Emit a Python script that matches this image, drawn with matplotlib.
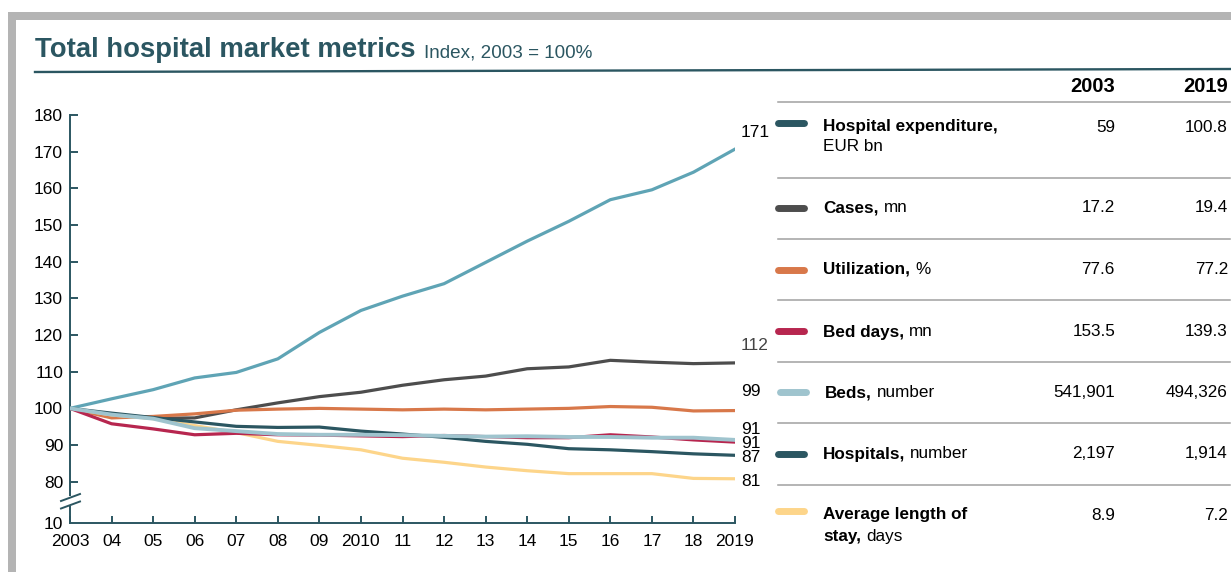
import matplotlib
matplotlib.use("Agg")
import matplotlib.pyplot as plt
from matplotlib.lines import Line2D
from matplotlib.patches import Rectangle

plt.rcParams['font.family'] = ['Liberation Sans', 'DejaVu Sans']

# ---------------- data ----------------
years = list(range(2003, 2020))
year_labels = ["2003", "04", "05", "06", "07", "08", "09", "2010", "11", "12",
               "13", "14", "15", "16", "17", "18", "2019"]

expenditure = [100, 102.6, 105.1, 108.3, 109.8, 113.5, 120.7, 126.7, 130.6, 134.0,
               139.8, 145.6, 151.0, 156.9, 159.6, 164.4, 170.7]
cases = [100, 98.2, 97.3, 97.4, 99.6, 101.5, 103.2, 104.4, 106.3, 107.8,
         108.8, 110.8, 111.3, 113.1, 112.6, 112.2, 112.4]
utilization = [100, 97.4, 97.8, 98.5, 99.5, 99.8, 100.0, 99.8, 99.6, 99.8,
               99.6, 99.8, 100.0, 100.5, 100.3, 99.3, 99.4]
bed_days = [100, 95.8, 94.4, 92.8, 93.2, 92.8, 92.7, 92.5, 92.3, 92.6,
            92.3, 92.0, 92.0, 92.8, 92.2, 91.4, 90.8]
beds = [100, 98.3, 97.2, 94.6, 93.8, 93.0, 92.8, 92.8, 92.7, 92.5,
        92.3, 92.4, 92.2, 92.2, 92.0, 92.0, 91.4]
hospitals = [100, 98.7, 97.5, 96.3, 95.1, 94.8, 94.9, 93.8, 93.0, 92.1,
             91.0, 90.2, 89.0, 88.7, 88.2, 87.6, 87.2]
alos = [100, 98.2, 97.2, 95.3, 93.4, 91.0, 89.9, 88.7, 86.4, 85.3,
        84.0, 83.0, 82.2, 82.2, 82.2, 80.9, 80.8]

end_labels = ["171", "112", "99", "91", "91", "87", "81"]
ytick_values = [80, 90, 100, 110, 120, 130, 140, 150, 160, 170, 180]

legend_bold = ["Hospital expenditure,", "Cases,", "Utilization,", "Bed days,",
               "Beds,", "Hospitals,", "Average length of\nstay,"]
legend_regular = ["EUR bn", "mn", "%", "mn", "number", "number", "days"]
values_2003 = ["59", "17.2", "77.6", "153.5", "541,901", "2,197", "8.9"]
values_2019 = ["100.8", "19.4", "77.2", "139.3", "494,326", "1,914", "7.2"]

# ---------------- styling ----------------
W, H = 1231, 572
DARK = "#2b5661"
c_exp = "#5fa4b5"
c_cases = "#4d4d4d"
c_util = "#d8784a"
c_beddays = "#b7264f"
c_beds = "#9fc4ce"
c_hosp = "#2b5661"
c_alos = "#fdd58a"
swatch_colors = [DARK, c_cases, c_util, c_beddays, c_beds, c_hosp, c_alos]
FS_LEG = 12.3
SPACE_PX = 5


def fx(x):
    return x / W


def fy(y):
    return 1 - y / H


fig = plt.figure(figsize=(W / 100, H / 100), dpi=100)
fig.patch.set_facecolor("white")

# gray frame
fig.add_artist(Rectangle((fx(8), fy(20)), fx(W) - fx(8), fy(12) - fy(20),
                         transform=fig.transFigure, color="#b4b4b4", lw=0))
fig.add_artist(Rectangle((fx(8), 0), fx(16) - fx(8), fy(12),
                         transform=fig.transFigure, color="#b4b4b4", lw=0))

# title
t = fig.text(fx(35), fy(57), "Total hospital market metrics", fontsize=19.8,
             fontweight="bold", color=DARK, va="baseline", ha="left")
fig.canvas.draw()
r = fig.canvas.get_renderer()
bb = t.get_window_extent(r)
fig.text(bb.x1 / W + fx(8), fy(57), "Index, 2003 = 100%", fontsize=13.6,
         color=DARK, va="baseline", ha="left")
fig.add_artist(Line2D([fx(35), fx(W)], [fy(72), fy(69)], transform=fig.transFigure,
                      color=DARK, lw=1.7))

# ---------------- chart ----------------
ybot = 68.74
ax = fig.add_axes([fx(70), fy(523), fx(735) - fx(70), fy(115) - fy(523)])
ax.set_xlim(2003, 2019)
ax.set_ylim(ybot, 180)

lw = 2.3
ax.plot(years, expenditure, color=c_exp, lw=lw, zorder=3)
ax.plot(years, cases, color=c_cases, lw=lw, zorder=3)
ax.plot(years, utilization, color=c_util, lw=lw, zorder=3)
ax.plot(years, alos, color=c_alos, lw=lw, zorder=3)
ax.plot(years, bed_days, color=c_beddays, lw=lw, zorder=4)
ax.plot(years, hospitals, color=c_hosp, lw=lw, zorder=5)
ax.plot(years, beds, color=c_beds, lw=2.8, zorder=6)

for s in ["top", "right"]:
    ax.spines[s].set_visible(False)
for s in ["left", "bottom"]:
    ax.spines[s].set_color(DARK)
    ax.spines[s].set_linewidth(1.4)

ax.set_xticks(years)
ax.set_xticklabels(year_labels)
ax.set_yticks([ybot] + ytick_values)
ax.set_yticklabels(["10"] + [str(v) for v in ytick_values])
ax.tick_params(axis="both", direction="in", color=DARK, width=1.4, labelsize=12.5,
               labelcolor="black")
ax.tick_params(axis="x", length=5, pad=8)
ax.tick_params(axis="y", length=6, pad=5)
ax.yaxis.get_major_ticks()[0].tick1line.set_visible(False)

# axis break
tr = ax.transAxes
ah = 523 - 115
aw = 735 - 70


def ax_pt(x, y):
    return ((x - 70) / aw, (523 - y) / ah)


gap0 = ax_pt(70, 496)
gap1 = ax_pt(70, 506)
ax.add_patch(Rectangle((-0.01, gap1[1]), 0.02, gap0[1] - gap1[1], transform=tr,
                       color="white", clip_on=False, zorder=10, lw=0))
for (y1, y2) in [(501, 494), (508.5, 501.5)]:
    p1 = ax_pt(61, y1)
    p2 = ax_pt(80, y2)
    ax.add_line(Line2D([p1[0], p2[0]], [p1[1], p2[1]], transform=tr, color=DARK,
                       lw=1.4, clip_on=False, zorder=11))

# end labels
end_y = [132, 345, 392, 430, 443, 458, 482]
end_colors = ["black", "#444444", "black", "black", "black", "black", "black"]
for lab, yy, cc in zip(end_labels, end_y, end_colors):
    fig.text(fx(741), fy(yy), lab, fontsize=12.5, color=cc, ha="left", va="center")

# ---------------- table / legend ----------------
fig.text(fx(1115), fy(86), "2003", fontsize=14.5, fontweight="bold", ha="right",
         va="center")
fig.text(fx(1228), fy(86), "2019", fontsize=14.5, fontweight="bold", ha="right",
         va="center")
sep_y = [101.5, 177.5, 238.5, 299.5, 361.5, 423, 484.5]
for yy in sep_y:
    fig.add_artist(Line2D([fx(778), fx(1230)], [fy(yy), fy(yy)],
                          transform=fig.transFigure, color="#a0a0a0", lw=1.1))


def bold_then_regular(x, y, bold, reg):
    bt = fig.text(fx(x), fy(y), bold, fontsize=FS_LEG, fontweight="bold",
                  ha="left", va="baseline")
    fig.canvas.draw()
    b2 = bt.get_window_extent(fig.canvas.get_renderer())
    fig.text((b2.x1 + SPACE_PX) / W, fy(y), reg, fontsize=FS_LEG, ha="left",
             va="baseline")


row_y = [127, 208, 269.5, 332, 392.5, 454, 515]
swatch_y = [123, 208, 269.5, 331, 392, 454, 511]
BASE_OFF = 4.5  # centre -> baseline offset in pixels
for i in range(len(legend_bold)):
    yy = row_y[i]
    x0 = 778 if i != 4 else 780
    fig.add_artist(Line2D([fx(x0), fx(x0 + 26)], [fy(swatch_y[i]), fy(swatch_y[i])],
                          transform=fig.transFigure, color=swatch_colors[i], lw=5,
                          solid_capstyle="round"))
    tx = 823 if i != 4 else 825
    bold = legend_bold[i]
    reg = legend_regular[i]
    if i == 0:
        fig.text(fx(tx), fy(yy + BASE_OFF), bold, fontsize=FS_LEG,
                 fontweight="bold", ha="left", va="baseline")
        fig.text(fx(tx), fy(yy + 20 + BASE_OFF), reg, fontsize=FS_LEG, ha="left",
                 va="baseline")
    elif "\n" in bold:
        l1, l2 = bold.split("\n")
        fig.text(fx(tx), fy(yy + BASE_OFF), l1, fontsize=FS_LEG,
                 fontweight="bold", ha="left", va="baseline")
        bold_then_regular(tx, yy + 21.5 + BASE_OFF, l2, reg)
    else:
        bold_then_regular(tx, yy + BASE_OFF, bold, reg)
    fig.text(fx(1115), fy(yy + BASE_OFF), values_2003[i], fontsize=FS_LEG,
             ha="right", va="baseline")
    fig.text(fx(1228), fy(yy + BASE_OFF), values_2019[i], fontsize=FS_LEG,
             ha="right", va="baseline")

fig.savefig("out.png", dpi=100, facecolor="white")
